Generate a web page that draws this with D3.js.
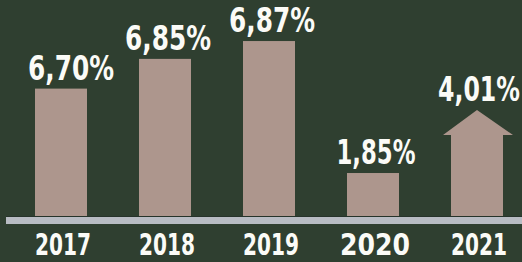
<!DOCTYPE html>
<html>
<head>
  <meta charset="UTF-8">
  <style>
    body { margin: 0; background-color: #2f3f30; }
    svg { display: block; }
    .lbl { font-family: "DejaVu Sans Condensed", "DejaVu Sans", sans-serif; font-weight: bold; fill: #fbfbf7; }
  </style>
</head>
<body>
<svg></svg>
<script src="https://d3js.org/d3.v7.min.js"></script>
<script>

// data
const years = ["2017", "2018", "2019", "2020", "2021"];
const labels = ["6,70%", "6,85%", "6,87%", "1,85%", "4,01%"];
// bar heights as drawn (the designer did not draw them to scale)
const heights = [5.4, 6.65, 7.4, 1.85, 4.5];

let width = 522, height = 262;
let svg = d3.select("svg").attr("width", width).attr("height", height);

svg.append("rect").attr("width", width).attr("height", height).attr("fill", "#2f3f30");

let x = d3.scaleBand().domain(years).range([9, 529]).paddingInner(0.5).paddingOuter(0.25);
let y = d3.scaleLinear().domain([0, 9]).range([217, 3]);

let barColor = "#ad968d";

// plain bars
svg.append("g").selectAll("rect")
  .data(years.slice(0, 4))
  .enter()
  .append("rect")
  .attr("x", d => x(d))
  .attr("width", x.bandwidth())
  .attr("y", (d, i) => y(heights[i]))
  .attr("height", (d, i) => y(0) - y(heights[i]))
  .attr("fill", barColor);

// last one is an up arrow
let last = years.length - 1;
let ax = x(years[last]), bw = x.bandwidth();
let apex = y(heights[last]);
let shoulder = apex + 25;
let wing = 8;
svg.append("path")
  .attr("d", d3.line()([
    [ax, y(0)], [ax, shoulder], [ax - wing, shoulder], [ax + bw / 2, apex],
    [ax + bw + wing + 2, shoulder], [ax + bw, shoulder], [ax + bw, y(0)]
  ]))
  .attr("fill", barColor);

// baseline
svg.append("rect").attr("x", 6).attr("y", 217).attr("width", width).attr("height", 7).attr("fill", "#b8bcc3");
svg.append("rect").attr("x", 6).attr("y", 216).attr("width", width).attr("height", 1).attr("fill", "#26332a");

// value labels (last one pinned to the right edge)
let lw = (d, i) => i == 3 ? 79 : i == last ? 82 : 86;
svg.append("g").selectAll("text")
  .data(labels)
  .enter()
  .append("text")
  .attr("class", "lbl")
  .attr("x", (d, i) => i == last ? width - 2 : x(years[i]) + bw / 2 + (i == 0 ? 10 : 3))
  .attr("y", (d, i) => y(heights[i]) - 9)
  .attr("text-anchor", (d, i) => i == last ? "end" : "middle")
  .attr("textLength", lw)
  .attr("lengthAdjust", "spacingAndGlyphs")
  .style("font-size", "33px")
  .text(d => d);

// year labels
svg.append("g").selectAll("text")
  .data(years)
  .enter()
  .append("text")
  .attr("class", "lbl")
  .attr("x", (d, i) => i == last ? x(d) + bw / 2 + 30 : x(d) + bw / 2 + 2)
  .attr("y", 255)
  .attr("text-anchor", (d, i) => i == last ? "end" : "middle")
  .attr("textLength", d => d == "2020" ? 70 : 56)
  .attr("lengthAdjust", "spacingAndGlyphs")
  .style("font-size", "30px")
  .text(d => d);

</script>
</body>
</html>
